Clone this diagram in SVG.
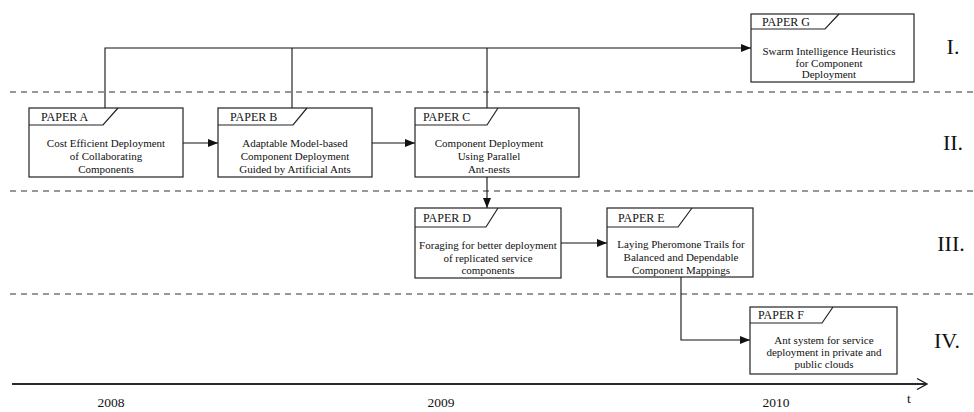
<svg xmlns="http://www.w3.org/2000/svg" width="974" height="412" viewBox="0 0 974 412">
  <style>
    .box { fill: #ffffff; stroke: #222222; stroke-width: 1.2; }
    .tab { fill: none; stroke: #222222; stroke-width: 1.2; }
    .label { font-family: "Liberation Serif", "Times New Roman", serif; font-size: 12px; fill: #111111; }
    .body { font-family: "Liberation Serif", "Times New Roman", serif; font-size: 11px; fill: #111111; text-anchor: middle; }
    .conn { fill: none; stroke: #111111; stroke-width: 1.1; }
    .sep { stroke: #333333; stroke-width: 1.1; stroke-dasharray: 6 5; }
    .roman { font-family: "Liberation Serif", "Times New Roman", serif; font-size: 22px; fill: #111111; text-anchor: middle; }
    .year { font-family: "Liberation Serif", "Times New Roman", serif; font-size: 13.5px; fill: #111111; text-anchor: middle; }
  </style>
  <defs>
    <marker id="arrow" viewBox="0 0 10 8" refX="10" refY="4" markerWidth="10" markerHeight="8" markerUnits="userSpaceOnUse" orient="auto">
      <path d="M0,0 L10,4 L0,8 Z" fill="#111111"/>
    </marker>
    <marker id="openArrow" viewBox="0 0 12 12" refX="11" refY="6" markerWidth="12" markerHeight="12" markerUnits="userSpaceOnUse" orient="auto">
      <path d="M1,0.5 L11,6 L1,11.5" fill="none" stroke="#222222" stroke-width="1.3"/>
    </marker>
  </defs>

  <rect width="974" height="412" fill="#ffffff"/>

  <!-- row separators -->
  <g id="separators">
    <line class="sep" x1="10" y1="92" x2="974" y2="92"/>
    <line class="sep" x1="10" y1="191" x2="974" y2="191"/>
    <line class="sep" x1="10" y1="294" x2="974" y2="294"/>
  </g>

  <!-- row numerals -->
  <g id="rows">
    <text class="roman" x="953" y="54">I.</text>
    <text class="roman" x="953" y="150">II.</text>
    <text class="roman" x="951" y="251">III.</text>
    <text class="roman" x="947" y="348">IV.</text>
  </g>

  <!-- connectors -->
  <g id="connectors">
    <path class="conn" d="M105,108 V48 H751" marker-end="url(#arrow)"/>
    <path class="conn" d="M292,108 V48"/>
    <path class="conn" d="M487,108 V48"/>
    <path class="conn" d="M183,143 H218" marker-end="url(#arrow)"/>
    <path class="conn" d="M372,143 H415" marker-end="url(#arrow)"/>
    <path class="conn" d="M487,177 V208" marker-end="url(#arrow)"/>
    <path class="conn" d="M561,243 H607" marker-end="url(#arrow)"/>
    <path class="conn" d="M681,277 V340 H750" marker-end="url(#arrow)"/>
  </g>

  <!-- paper nodes -->
  <g id="paperG">
    <rect class="box" x="751" y="14" width="163" height="68"/>
    <polyline class="tab" points="751,29 825,29 839,14"/>
    <text class="label" x="762" y="26">PAPER G</text>
    <text class="body" x="829" y="55">Swarm Intelligence Heuristics</text>
    <text class="body" x="829" y="66.5">for Component</text>
    <text class="body" x="829" y="78">Deployment</text>
  </g>

  <g id="paperA">
    <rect class="box" x="29" y="108" width="154" height="69"/>
    <polyline class="tab" points="29,125 103,125 118,108"/>
    <text class="label" x="41" y="121">PAPER A</text>
    <text class="body" x="106" y="147">Cost Efficient Deployment</text>
    <text class="body" x="106" y="160">of Collaborating</text>
    <text class="body" x="106" y="172.5">Components</text>
  </g>

  <g id="paperB">
    <rect class="box" x="218" y="108" width="154" height="69"/>
    <polyline class="tab" points="218,125 293,125 307,108"/>
    <text class="label" x="230" y="121">PAPER B</text>
    <text class="body" x="295" y="147">Adaptable Model-based</text>
    <text class="body" x="295" y="160">Component Deployment</text>
    <text class="body" x="295" y="172.5">Guided by Artificial Ants</text>
  </g>

  <g id="paperC">
    <rect class="box" x="415" y="108" width="164" height="69"/>
    <polyline class="tab" points="415,125 487,125 498,108"/>
    <text class="label" x="423" y="121">PAPER C</text>
    <text class="body" x="489" y="147">Component Deployment</text>
    <text class="body" x="489" y="160">Using Parallel</text>
    <text class="body" x="489" y="172.5">Ant-nests</text>
  </g>

  <g id="paperD">
    <rect class="box" x="415" y="208" width="146" height="70"/>
    <polyline class="tab" points="415,227 486,227 498,208"/>
    <text class="label" x="423" y="222">PAPER D</text>
    <text class="body" x="488" y="249">Foraging for better deployment</text>
    <text class="body" x="488" y="262">of replicated service</text>
    <text class="body" x="488" y="274">components</text>
  </g>

  <g id="paperE">
    <rect class="box" x="607" y="208" width="146" height="69"/>
    <polyline class="tab" points="607,227 678,227 692,208"/>
    <text class="label" x="618" y="222">PAPER E</text>
    <text class="body" x="681" y="248">Laying Pheromone Trails for</text>
    <text class="body" x="681" y="261">Balanced and Dependable</text>
    <text class="body" x="681" y="273.5">Component Mappings</text>
  </g>

  <g id="paperF">
    <rect class="box" x="750" y="307" width="147" height="67"/>
    <polyline class="tab" points="750,323 822,323 833,307"/>
    <text class="label" x="758" y="319">PAPER F</text>
    <text class="body" x="824" y="344">Ant system for service</text>
    <text class="body" x="824" y="356">deployment in private and</text>
    <text class="body" x="824" y="368">public clouds</text>
  </g>

  <!-- time axis -->
  <g id="timeAxis">
    <line x1="12" y1="384" x2="927" y2="384" stroke="#2a2a2a" stroke-width="2" marker-end="url(#openArrow)"/>
    <text class="year" x="111" y="407">2008</text>
    <text class="year" x="441" y="407">2009</text>
    <text class="year" x="776" y="407">2010</text>
    <text class="year" x="909" y="403">t</text>
  </g>
</svg>
